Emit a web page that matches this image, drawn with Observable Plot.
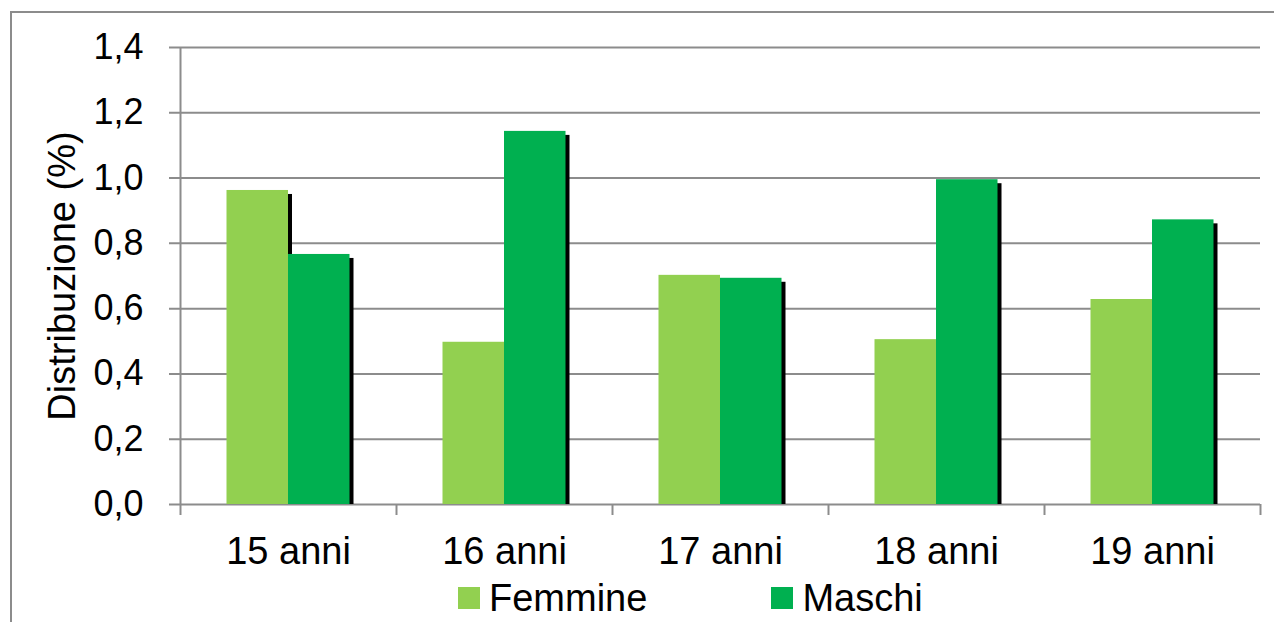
<!DOCTYPE html>
<html>
<head>
<meta charset="utf-8">
<script src="https://cdn.jsdelivr.net/npm/d3@7"></script>
<script src="https://cdn.jsdelivr.net/npm/@observablehq/plot@0.6"></script>
<style>
  html, body { margin: 0; padding: 0; background: #fff; overflow: hidden; }
  body { width: 1274px; height: 622px; position: relative; font-family: "Liberation Sans", Arial, sans-serif; }
  #border { position: absolute; left: 10px; top: 11px; width: 1400px; height: 800px; border: 2px solid #8c8c8c; box-sizing: border-box; }
  #chart { position: absolute; left: 0; top: 0; }
  #legend { position: absolute; left: 458px; top: 578px; height: 40px; display: flex; align-items: center; font-size: 38px; color: #000; }
  .item { display: flex; align-items: center; }
  .sw { width: 22px; height: 22px; margin-right: 9px; }
</style>
</head>
<body>
<div id="border"></div>
<div id="chart"></div>
<div id="legend"></div>
<script>
const categories = ["15 anni", "16 anni", "17 anni", "18 anni", "19 anni"];
const femmine = [0.962, 0.497, 0.702, 0.505, 0.628];
const maschi = [0.766, 1.143, 0.693, 0.995, 0.872];
const seriesNames = ["Femmine", "Maschi"];
const seriesColors = ["#92D050", "#00B050"];
const yTicks = [0, 0.2, 0.4, 0.6, 0.8, 1.0, 1.2, 1.4];

const fData = categories.map((c, i) => ({eta: c, value: femmine[i]}));
const mData = categories.map((c, i) => ({eta: c, value: maschi[i]}));

const fmt = d => d.toFixed(1).replace(".", ",");
const grid = "#8c8c8c";
const half = 108; // half band width in px

const chart = Plot.plot({
  width: 1274,
  height: 580,
  marginTop: 47,
  marginBottom: 76,
  marginLeft: 180,
  marginRight: 14,
  style: {fontFamily: "'Liberation Sans', Arial, sans-serif", background: "transparent"},
  x: {domain: categories, padding: 0, axis: null},
  y: {domain: [0, 1.4], axis: null},
  marks: [
    Plot.ruleY(yTicks, {stroke: grid, strokeWidth: 2, insetLeft: -11}),
    Plot.ruleX([categories[0]], {dx: -half, y1: 0, y2: 1.4, stroke: grid, strokeWidth: 2}),
    Plot.ruleX(categories, {dx: -half, y1: 0, y2: 0, insetBottom: -11, stroke: grid, strokeWidth: 2}),
    Plot.ruleX([categories[categories.length - 1]], {dx: half, y1: 0, y2: 0, insetBottom: -11, stroke: grid, strokeWidth: 2}),
    // shadows
    Plot.barY(fData, {x: "eta", y: "value", fill: "#000", insetLeft: 46.5, insetRight: 108, dx: 4, insetTop: 4}),
    Plot.barY(mData, {x: "eta", y: "value", fill: "#000", insetLeft: 108, insetRight: 46.5, dx: 4, insetTop: 4}),
    // bars
    Plot.barY(fData, {x: "eta", y: "value", fill: seriesColors[0], insetLeft: 46.5, insetRight: 108}),
    Plot.barY(mData, {x: "eta", y: "value", fill: seriesColors[1], insetLeft: 108, insetRight: 46.5}),
    Plot.axisY({ticks: yTicks, tickFormat: fmt, tickSize: 0, tickPadding: 37, fontSize: 36, label: null}),
    Plot.axisX({tickSize: 0, tickPadding: 33, fontSize: 38, label: null}),
    Plot.text(["Distribuzione (%)"], {frameAnchor: "left", rotate: -90, dx: -118, fontSize: 38, fill: "#000", textAnchor: "middle", lineAnchor: "middle"})
  ]
});
document.getElementById("chart").appendChild(chart);

const legend = document.getElementById("legend");
seriesNames.forEach((name, i) => {
  const item = document.createElement("div");
  item.className = "item";
  if (i > 0) item.style.marginLeft = "124px";
  const sw = document.createElement("div");
  sw.className = "sw";
  sw.style.background = seriesColors[i];
  const label = document.createElement("span");
  label.textContent = name;
  item.appendChild(sw);
  item.appendChild(label);
  legend.appendChild(item);
});
</script>
</body>
</html>
